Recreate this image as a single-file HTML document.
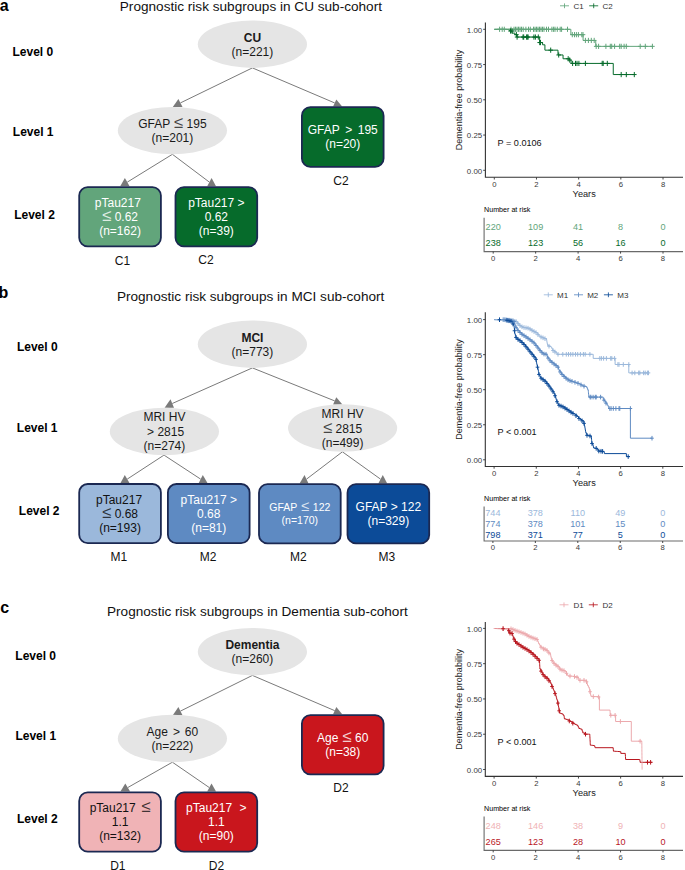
<!DOCTYPE html>
<html><head><meta charset="utf-8"><style>
html,body{margin:0;padding:0;background:#fff;}
svg{display:block;font-family:"Liberation Sans", sans-serif;}
</style></head><body>
<svg width="685" height="870" viewBox="0 0 685 870">
<rect width="685" height="870" fill="#fff"/>
<text x="-0.30" y="10.50" font-size="16" text-anchor="start" font-weight="bold" fill="#000" >a</text>
<text x="119.80" y="10.90" font-size="13.6" text-anchor="start" font-weight="normal" fill="#111" >Prognostic risk subgroups in CU sub-cohort</text>
<text x="12.50" y="55.60" font-size="12" text-anchor="start" font-weight="bold" fill="#000" >Level 0</text>
<text x="12.80" y="136.00" font-size="12" text-anchor="start" font-weight="bold" fill="#000" >Level 1</text>
<text x="14.20" y="219.00" font-size="12" text-anchor="start" font-weight="bold" fill="#000" >Level 2</text>
<line x1="252.4" y1="67.9" x2="180.45" y2="102.90" stroke="#7a7a7a" stroke-width="1"/>
<polygon points="178.4,98.9 172.8,106.9 182.5,106.9" fill="#7a7a7a"/>
<line x1="252.4" y1="67.9" x2="334.70" y2="102.95" stroke="#7a7a7a" stroke-width="1"/>
<polygon points="336.3,99.4 333.1,106.5 342.2,106.5" fill="#7a7a7a"/>
<line x1="172.4" y1="154.3" x2="127.25" y2="182.15" stroke="#7a7a7a" stroke-width="1"/>
<polygon points="124.9,178.0 120.2,186.3 129.6,186.3" fill="#7a7a7a"/>
<line x1="172.4" y1="154.3" x2="209.40" y2="182.15" stroke="#7a7a7a" stroke-width="1"/>
<polygon points="211.6,178.0 207.2,186.3 216.0,186.3" fill="#7a7a7a"/>
<ellipse cx="252.4" cy="44.2" rx="54.6" ry="23.7" fill="#e5e5e5"/>
<text x="252.40" y="41.70" font-size="12" text-anchor="middle" font-weight="bold" fill="#1a1a1a" >CU</text>
<text x="252.40" y="55.70" font-size="12" text-anchor="middle" font-weight="normal" fill="#1a1a1a" >(n=221)</text>
<ellipse cx="172.4" cy="130.6" rx="54.6" ry="23.7" fill="#e5e5e5"/>
<text x="172.40" y="128.10" font-size="12" text-anchor="middle" font-weight="normal" fill="#1a1a1a"  word-spacing="0.4">GFAP <tspan font-size="16.80" fill-opacity="0.8">≤</tspan> 195</text>
<text x="172.40" y="142.10" font-size="12" text-anchor="middle" font-weight="normal" fill="#1a1a1a" >(n=201)</text>
<rect x="301.90" y="107.20" width="81.70" height="59.70" rx="8.5" fill="#066b2b" stroke="#1b2852" stroke-width="1.8"/>
<text x="342.75" y="133.95" font-size="12" text-anchor="middle" font-weight="normal" fill="#fff"  word-spacing="2.3">GFAP &gt; 195</text>
<text x="342.75" y="147.95" font-size="12" text-anchor="middle" font-weight="normal" fill="#fff" >(n=20)</text>
<rect x="79.20" y="187.10" width="81.70" height="59.20" rx="8.5" fill="#62a57b" stroke="#1b2852" stroke-width="1.8"/>
<text x="117.85" y="206.90" font-size="12" text-anchor="middle" font-weight="normal" fill="#fff" >pTau217</text>
<text x="120.05" y="221.00" font-size="12" text-anchor="middle" font-weight="normal" fill="#fff" ><tspan font-size="16.80" fill-opacity="0.8">≤</tspan> 0.62</text>
<text x="120.05" y="235.10" font-size="12" text-anchor="middle" font-weight="normal" fill="#fff" >(n=162)</text>
<rect x="175.50" y="187.10" width="81.70" height="59.20" rx="8.5" fill="#066b2b" stroke="#1b2852" stroke-width="1.8"/>
<text x="216.35" y="206.90" font-size="12" text-anchor="middle" font-weight="normal" fill="#fff" >pTau217 &gt;</text>
<text x="216.35" y="221.00" font-size="12" text-anchor="middle" font-weight="normal" fill="#fff" >0.62</text>
<text x="216.35" y="235.10" font-size="12" text-anchor="middle" font-weight="normal" fill="#fff" >(n=39)</text>
<text x="340.90" y="184.60" font-size="12" text-anchor="middle" font-weight="normal" fill="#111" >C2</text>
<text x="122.50" y="264.50" font-size="12" text-anchor="middle" font-weight="normal" fill="#111" >C1</text>
<text x="206.00" y="264.00" font-size="12" text-anchor="middle" font-weight="normal" fill="#111" >C2</text>
<text x="-1.50" y="297.80" font-size="16" text-anchor="start" font-weight="bold" fill="#000" >b</text>
<text x="116.90" y="300.90" font-size="13.6" text-anchor="start" font-weight="normal" fill="#111" >Prognostic risk subgroups in MCI sub-cohort</text>
<text x="16.90" y="351.00" font-size="12" text-anchor="start" font-weight="bold" fill="#000" >Level 0</text>
<text x="16.80" y="431.50" font-size="12" text-anchor="start" font-weight="bold" fill="#000" >Level 1</text>
<text x="18.80" y="514.50" font-size="12" text-anchor="start" font-weight="bold" fill="#000" >Level 2</text>
<line x1="252.4" y1="367.9" x2="172.25" y2="403.50" stroke="#7a7a7a" stroke-width="1"/>
<polygon points="170.5,399.3 164.6,407.7 174.0,407.7" fill="#7a7a7a"/>
<line x1="252.4" y1="367.9" x2="334.70" y2="400.90" stroke="#7a7a7a" stroke-width="1"/>
<polygon points="336.3,397.3 333.1,404.5 342.4,404.5" fill="#7a7a7a"/>
<line x1="164.0" y1="455.1" x2="127.20" y2="479.15" stroke="#7a7a7a" stroke-width="1"/>
<polygon points="124.8,475.1 120.4,483.2 129.6,483.2" fill="#7a7a7a"/>
<line x1="164.0" y1="455.1" x2="200.70" y2="479.15" stroke="#7a7a7a" stroke-width="1"/>
<polygon points="202.8,475.1 198.6,483.2 207.6,483.2" fill="#7a7a7a"/>
<line x1="342.4" y1="451.8" x2="306.50" y2="479.15" stroke="#7a7a7a" stroke-width="1"/>
<polygon points="304.5,474.9 299.6,483.4 308.5,483.4" fill="#7a7a7a"/>
<line x1="342.4" y1="451.8" x2="380.55" y2="479.15" stroke="#7a7a7a" stroke-width="1"/>
<polygon points="382.8,474.9 378.3,483.4 387.2,483.4" fill="#7a7a7a"/>
<ellipse cx="252.4" cy="344.2" rx="54.6" ry="23.7" fill="#e5e5e5"/>
<text x="252.40" y="341.70" font-size="12" text-anchor="middle" font-weight="bold" fill="#1a1a1a" >MCI</text>
<text x="252.40" y="355.70" font-size="12" text-anchor="middle" font-weight="normal" fill="#1a1a1a" >(n=773)</text>
<ellipse cx="164.4" cy="431.5" rx="54.6" ry="23.7" fill="#e5e5e5"/>
<text x="164.40" y="421.30" font-size="12" text-anchor="middle" font-weight="normal" fill="#1a1a1a" >MRI HV</text>
<text x="165.60" y="436.00" font-size="12" text-anchor="middle" font-weight="normal" fill="#1a1a1a" >&gt; 2815</text>
<text x="164.40" y="450.10" font-size="12" text-anchor="middle" font-weight="normal" fill="#1a1a1a" >(n=274)</text>
<ellipse cx="342.6" cy="428.0" rx="54.6" ry="23.7" fill="#e5e5e5"/>
<text x="342.60" y="417.80" font-size="12" text-anchor="middle" font-weight="normal" fill="#1a1a1a" >MRI HV</text>
<text x="342.60" y="432.50" font-size="12" text-anchor="middle" font-weight="normal" fill="#1a1a1a" ><tspan font-size="16.80" fill-opacity="0.8">≤</tspan> 2815</text>
<text x="342.60" y="446.60" font-size="12" text-anchor="middle" font-weight="normal" fill="#1a1a1a" >(n=499)</text>
<rect x="79.20" y="484.00" width="81.70" height="59.20" rx="8.5" fill="#9bb8db" stroke="#1b2852" stroke-width="1.8"/>
<text x="119.05" y="503.80" font-size="12" text-anchor="middle" font-weight="normal" fill="#111" >pTau217</text>
<text x="120.05" y="517.90" font-size="12" text-anchor="middle" font-weight="normal" fill="#111" ><tspan font-size="16.80" fill-opacity="0.8">≤</tspan> 0.68</text>
<text x="120.05" y="532.00" font-size="12" text-anchor="middle" font-weight="normal" fill="#111" >(n=193)</text>
<rect x="167.90" y="484.00" width="81.70" height="59.20" rx="8.5" fill="#5e8ac2" stroke="#1b2852" stroke-width="1.8"/>
<text x="208.75" y="503.80" font-size="12" text-anchor="middle" font-weight="normal" fill="#fff" >pTau217 &gt;</text>
<text x="208.75" y="517.90" font-size="12" text-anchor="middle" font-weight="normal" fill="#fff" >0.68</text>
<text x="208.75" y="532.00" font-size="12" text-anchor="middle" font-weight="normal" fill="#fff" >(n=81)</text>
<rect x="259.00" y="484.20" width="81.70" height="59.20" rx="8.5" fill="#5e8ac2" stroke="#1b2852" stroke-width="1.8"/>
<text x="299.85" y="510.80" font-size="10.5" text-anchor="middle" font-weight="normal" fill="#fff"  word-spacing="0.9">GFAP <tspan font-size="14.70" fill-opacity="0.8">≤</tspan> 122</text>
<text x="299.85" y="523.90" font-size="10.5" text-anchor="middle" font-weight="normal" fill="#fff" >(n=170)</text>
<rect x="347.50" y="484.20" width="81.70" height="59.20" rx="8.5" fill="#0c4b98" stroke="#1b2852" stroke-width="1.8"/>
<text x="388.35" y="510.70" font-size="12" text-anchor="middle" font-weight="normal" fill="#fff" >GFAP &gt; 122</text>
<text x="388.35" y="524.70" font-size="12" text-anchor="middle" font-weight="normal" fill="#fff" >(n=329)</text>
<text x="118.80" y="561.00" font-size="12" text-anchor="middle" font-weight="normal" fill="#111" >M1</text>
<text x="208.00" y="561.00" font-size="12" text-anchor="middle" font-weight="normal" fill="#111" >M2</text>
<text x="298.40" y="561.00" font-size="12" text-anchor="middle" font-weight="normal" fill="#111" >M2</text>
<text x="386.90" y="561.00" font-size="12" text-anchor="middle" font-weight="normal" fill="#111" >M3</text>
<text x="0.20" y="612.80" font-size="16" text-anchor="start" font-weight="bold" fill="#000" >c</text>
<text x="107.00" y="616.00" font-size="13.6" text-anchor="start" font-weight="normal" fill="#111" >Prognostic risk subgroups in Dementia sub-cohort</text>
<text x="15.30" y="660.30" font-size="12" text-anchor="start" font-weight="bold" fill="#000" >Level 0</text>
<text x="15.40" y="740.40" font-size="12" text-anchor="start" font-weight="bold" fill="#000" >Level 1</text>
<text x="17.00" y="823.10" font-size="12" text-anchor="start" font-weight="bold" fill="#000" >Level 2</text>
<line x1="252.4" y1="675.4" x2="180.45" y2="711.10" stroke="#7a7a7a" stroke-width="1"/>
<polygon points="178.4,707.0 172.8,715.2 182.5,715.2" fill="#7a7a7a"/>
<line x1="252.4" y1="675.4" x2="334.70" y2="710.65" stroke="#7a7a7a" stroke-width="1"/>
<polygon points="336.3,707.0 333.1,714.3 342.2,714.3" fill="#7a7a7a"/>
<line x1="172.4" y1="762.2" x2="127.70" y2="787.60" stroke="#7a7a7a" stroke-width="1"/>
<polygon points="125.3,783.6 120.4,791.6 130.1,791.6" fill="#7a7a7a"/>
<line x1="172.4" y1="762.2" x2="209.35" y2="787.60" stroke="#7a7a7a" stroke-width="1"/>
<polygon points="211.5,783.6 207.2,791.6 216.0,791.6" fill="#7a7a7a"/>
<ellipse cx="252.4" cy="651.7" rx="54.6" ry="23.7" fill="#e5e5e5"/>
<text x="252.40" y="649.20" font-size="12" text-anchor="middle" font-weight="bold" fill="#1a1a1a" >Dementia</text>
<text x="252.40" y="663.20" font-size="12" text-anchor="middle" font-weight="normal" fill="#1a1a1a" >(n=260)</text>
<ellipse cx="172.4" cy="738.5" rx="54.6" ry="23.7" fill="#e5e5e5"/>
<text x="172.40" y="736.00" font-size="12" text-anchor="middle" font-weight="normal" fill="#1a1a1a"  word-spacing="1.6">Age &gt; 60</text>
<text x="172.40" y="750.00" font-size="12" text-anchor="middle" font-weight="normal" fill="#1a1a1a" >(n=222)</text>
<rect x="301.90" y="715.10" width="81.70" height="59.20" rx="8.5" fill="#c9161d" stroke="#1b2852" stroke-width="1.8"/>
<text x="342.75" y="741.60" font-size="12" text-anchor="middle" font-weight="normal" fill="#fff"  word-spacing="0.4">Age <tspan font-size="16.80" fill-opacity="0.8">≤</tspan> 60</text>
<text x="342.75" y="755.60" font-size="12" text-anchor="middle" font-weight="normal" fill="#fff" >(n=38)</text>
<rect x="79.20" y="792.40" width="81.70" height="59.20" rx="8.5" fill="#f0b3b6" stroke="#1b2852" stroke-width="1.8"/>
<text x="120.05" y="812.20" font-size="12" text-anchor="middle" font-weight="normal" fill="#111"  word-spacing="2.2">pTau217 <tspan font-size="16.80" fill-opacity="0.8">≤</tspan></text>
<text x="120.05" y="826.30" font-size="12" text-anchor="middle" font-weight="normal" fill="#111" >1.1</text>
<text x="120.05" y="840.40" font-size="12" text-anchor="middle" font-weight="normal" fill="#111" >(n=132)</text>
<rect x="175.50" y="792.40" width="81.70" height="59.20" rx="8.5" fill="#c9161d" stroke="#1b2852" stroke-width="1.8"/>
<text x="216.35" y="812.20" font-size="12" text-anchor="middle" font-weight="normal" fill="#fff"  word-spacing="4.1">pTau217 &gt;</text>
<text x="216.35" y="826.30" font-size="12" text-anchor="middle" font-weight="normal" fill="#fff" >1.1</text>
<text x="216.35" y="840.40" font-size="12" text-anchor="middle" font-weight="normal" fill="#fff" >(n=90)</text>
<text x="341.00" y="791.80" font-size="12" text-anchor="middle" font-weight="normal" fill="#111" >D2</text>
<text x="117.80" y="869.50" font-size="12" text-anchor="middle" font-weight="normal" fill="#111" >D1</text>
<text x="216.40" y="869.50" font-size="12" text-anchor="middle" font-weight="normal" fill="#111" >D2</text>
<path d="M485.4,22.6 V177.3 H683" fill="none" stroke="#333333" stroke-width="1.1"/>
<line x1="483.2" y1="29.30" x2="485.4" y2="29.30" stroke="#333333" stroke-width="0.9"/>
<text x="482.20" y="32.50" font-size="7.9" text-anchor="end" font-weight="normal" fill="#3a3a3a" >1.00</text>
<line x1="483.2" y1="64.55" x2="485.4" y2="64.55" stroke="#333333" stroke-width="0.9"/>
<text x="482.20" y="67.75" font-size="7.9" text-anchor="end" font-weight="normal" fill="#3a3a3a" >0.75</text>
<line x1="483.2" y1="99.80" x2="485.4" y2="99.80" stroke="#333333" stroke-width="0.9"/>
<text x="482.20" y="103.00" font-size="7.9" text-anchor="end" font-weight="normal" fill="#3a3a3a" >0.50</text>
<line x1="483.2" y1="135.05" x2="485.4" y2="135.05" stroke="#333333" stroke-width="0.9"/>
<text x="482.20" y="138.25" font-size="7.9" text-anchor="end" font-weight="normal" fill="#3a3a3a" >0.25</text>
<line x1="483.2" y1="170.30" x2="485.4" y2="170.30" stroke="#333333" stroke-width="0.9"/>
<text x="482.20" y="173.50" font-size="7.9" text-anchor="end" font-weight="normal" fill="#3a3a3a" >0.00</text>
<line x1="494.30" y1="177.3" x2="494.30" y2="179.5" stroke="#333333" stroke-width="0.9"/>
<text x="494.30" y="186.90" font-size="7.7" text-anchor="middle" font-weight="normal" fill="#3a3a3a" >0</text>
<line x1="536.48" y1="177.3" x2="536.48" y2="179.5" stroke="#333333" stroke-width="0.9"/>
<text x="536.48" y="186.90" font-size="7.7" text-anchor="middle" font-weight="normal" fill="#3a3a3a" >2</text>
<line x1="578.66" y1="177.3" x2="578.66" y2="179.5" stroke="#333333" stroke-width="0.9"/>
<text x="578.66" y="186.90" font-size="7.7" text-anchor="middle" font-weight="normal" fill="#3a3a3a" >4</text>
<line x1="620.84" y1="177.3" x2="620.84" y2="179.5" stroke="#333333" stroke-width="0.9"/>
<text x="620.84" y="186.90" font-size="7.7" text-anchor="middle" font-weight="normal" fill="#3a3a3a" >6</text>
<line x1="663.02" y1="177.3" x2="663.02" y2="179.5" stroke="#333333" stroke-width="0.9"/>
<text x="663.02" y="186.90" font-size="7.7" text-anchor="middle" font-weight="normal" fill="#3a3a3a" >8</text>
<text x="584.20" y="197.20" font-size="9.2" text-anchor="middle" font-weight="normal" fill="#1a1a1a" >Years</text>
<text x="0" y="0" font-size="9.0" text-anchor="middle" fill="#1a1a1a" transform="translate(461.9,100.10) rotate(-90)">Dementia-free probability</text>
<text x="497.60" y="146.00" font-size="9.1" text-anchor="start" font-weight="normal" fill="#111" >P = 0.0106</text>
<path d="M560.0,5.8 H569.0 M564.5,3.4 V8.2" stroke="#62a57b" stroke-width="0.85" fill="none"/>
<text x="573.50" y="8.70" font-size="8" text-anchor="start" font-weight="normal" fill="#333" >C1</text>
<path d="M589.2,5.8 H598.2 M593.7,3.4 V8.2" stroke="#066b2b" stroke-width="0.85" fill="none"/>
<text x="602.60" y="8.70" font-size="8" text-anchor="start" font-weight="normal" fill="#333" >C2</text>
<path d="M494.30,29.30 H509.70 V30.99 H512.02 V33.11 H514.97 V34.66 H517.08 V37.06 H539.64 V42.55 H542.60 V44.81 H544.92 V50.17 H557.99 V54.96 H563.05 V58.77 H569.59 V60.04 H571.07 V63.42 H613.25 V74.56 H635.00" fill="none" stroke="#066b2b" stroke-width="1.0"/>
<path d="M494.30,29.30 H570.86 V34.66 H583.09 V40.44 H595.74 V46.36 H652.60" fill="none" stroke="#62a57b" stroke-width="1.0"/>
<path d="M497.30,29.30 H501.90 M499.60,26.70 V31.90 M499.90,29.30 H504.50 M502.20,26.70 V31.90 M502.00,29.30 H506.60 M504.30,26.70 V31.90 M508.70,29.30 H513.30 M511.00,26.70 V31.90 M511.70,29.30 H516.30 M514.00,26.70 V31.90 M513.20,29.30 H517.80 M515.50,26.70 V31.90 M514.70,29.30 H519.30 M517.00,26.70 V31.90 M516.20,29.30 H520.80 M518.50,26.70 V31.90 M517.70,29.30 H522.30 M520.00,26.70 V31.90 M519.20,29.30 H523.80 M521.50,26.70 V31.90 M520.90,29.30 H525.50 M523.20,26.70 V31.90 M523.60,29.30 H528.20 M525.90,26.70 V31.90 M526.20,29.30 H530.80 M528.50,26.70 V31.90 M528.00,29.30 H532.60 M530.30,26.70 V31.90 M531.20,29.30 H535.80 M533.50,26.70 V31.90 M532.70,29.30 H537.30 M535.00,26.70 V31.90 M534.20,29.30 H538.80 M536.50,26.70 V31.90 M535.70,29.30 H540.30 M538.00,26.70 V31.90 M537.20,29.30 H541.80 M539.50,26.70 V31.90 M538.70,29.30 H543.30 M541.00,26.70 V31.90 M540.20,29.30 H544.80 M542.50,26.70 V31.90 M541.70,29.30 H546.30 M544.00,26.70 V31.90 M544.20,29.30 H548.80 M546.50,26.70 V31.90 M546.20,29.30 H550.80 M548.50,26.70 V31.90 M549.60,29.30 H554.20 M551.90,26.70 V31.90 M551.30,29.30 H555.90 M553.60,26.70 V31.90 M552.70,29.30 H557.30 M555.00,26.70 V31.90 M555.00,29.30 H559.60 M557.30,26.70 V31.90 M557.90,29.30 H562.50 M560.20,26.70 V31.90 M559.30,29.30 H563.90 M561.60,26.70 V31.90 M565.20,29.30 H569.80 M567.50,26.70 V31.90 M570.00,34.66 H574.60 M572.30,32.06 V37.26 M572.20,34.66 H576.80 M574.50,32.06 V37.26 M574.10,34.66 H578.70 M576.40,32.06 V37.26 M576.10,34.66 H580.70 M578.40,32.06 V37.26 M579.50,34.66 H584.10 M581.80,32.06 V37.26 M580.70,34.66 H585.30 M583.00,32.06 V37.26 M583.10,40.44 H587.70 M585.40,37.84 V43.04 M586.10,40.44 H590.70 M588.40,37.84 V43.04 M589.00,40.44 H593.60 M591.30,37.84 V43.04 M591.90,40.44 H596.50 M594.20,37.84 V43.04 M593.90,46.36 H598.50 M596.20,43.76 V48.96 M596.30,46.36 H600.90 M598.60,43.76 V48.96 M603.60,46.36 H608.20 M605.90,43.76 V48.96 M608.00,46.36 H612.60 M610.30,43.76 V48.96 M609.40,46.36 H614.00 M611.70,43.76 V48.96 M612.30,46.36 H616.90 M614.60,43.76 V48.96 M617.40,46.36 H622.00 M619.70,43.76 V48.96 M618.90,46.36 H623.50 M621.20,43.76 V48.96 M621.80,46.36 H626.40 M624.10,43.76 V48.96 M624.00,46.36 H628.60 M626.30,43.76 V48.96 M637.90,46.36 H642.50 M640.20,43.76 V48.96 M643.00,46.36 H647.60 M645.30,43.76 V48.96 M650.10,46.36 H654.70 M652.40,43.76 V48.96" fill="none" stroke="#62a57b" stroke-width="1.0"/>
<path d="M508.20,30.99 H512.80 M510.50,28.39 V33.59 M509.70,30.99 H514.30 M512.00,28.39 V33.59 M514.10,34.66 H518.70 M516.40,32.06 V37.26 M514.80,37.06 H519.40 M517.10,34.46 V39.66 M520.70,37.06 H525.30 M523.00,34.46 V39.66 M521.40,37.06 H526.00 M523.70,34.46 V39.66 M524.30,37.06 H528.90 M526.60,34.46 V39.66 M525.00,37.06 H529.60 M527.30,34.46 V39.66 M525.80,37.06 H530.40 M528.10,34.46 V39.66 M531.60,37.06 H536.20 M533.90,34.46 V39.66 M533.10,37.06 H537.70 M535.40,34.46 V39.66 M536.00,37.06 H540.60 M538.30,34.46 V39.66 M537.40,42.55 H542.00 M539.70,39.95 V45.15 M538.20,42.55 H542.80 M540.50,39.95 V45.15 M548.40,50.17 H553.00 M550.70,47.57 V52.77 M556.40,54.96 H561.00 M558.70,52.36 V57.56 M565.90,58.77 H570.50 M568.20,56.17 V61.37 M567.40,60.04 H572.00 M569.70,57.44 V62.64 M570.30,63.42 H574.90 M572.60,60.82 V66.02 M573.20,63.42 H577.80 M575.50,60.82 V66.02 M574.70,63.42 H579.30 M577.00,60.82 V66.02 M576.60,63.42 H581.20 M578.90,60.82 V66.02 M583.10,63.42 H587.70 M585.40,60.82 V66.02 M599.90,63.42 H604.50 M602.20,60.82 V66.02 M600.90,63.42 H605.50 M603.20,60.82 V66.02 M605.00,63.42 H609.60 M607.30,60.82 V66.02 M618.90,74.56 H623.50 M621.20,71.96 V77.16 M624.00,74.56 H628.60 M626.30,71.96 V77.16 M632.00,74.56 H636.60 M634.30,71.96 V77.16" fill="none" stroke="#066b2b" stroke-width="1.0"/>
<text x="484.00" y="212.40" font-size="7.15" text-anchor="start" font-weight="normal" fill="#000" >Number at risk</text>
<path d="M484.1,217.7 V251.6 H683" fill="none" stroke="#6a6a6a" stroke-width="1.1"/>
<line x1="493.20" y1="251.6" x2="493.20" y2="253.6" stroke="#333333" stroke-width="0.9"/>
<text x="493.20" y="260.90" font-size="7.7" text-anchor="middle" font-weight="normal" fill="#3a3a3a" >0</text>
<line x1="535.65" y1="251.6" x2="535.65" y2="253.6" stroke="#333333" stroke-width="0.9"/>
<text x="535.65" y="260.90" font-size="7.7" text-anchor="middle" font-weight="normal" fill="#3a3a3a" >2</text>
<line x1="578.10" y1="251.6" x2="578.10" y2="253.6" stroke="#333333" stroke-width="0.9"/>
<text x="578.10" y="260.90" font-size="7.7" text-anchor="middle" font-weight="normal" fill="#3a3a3a" >4</text>
<line x1="620.55" y1="251.6" x2="620.55" y2="253.6" stroke="#333333" stroke-width="0.9"/>
<text x="620.55" y="260.90" font-size="7.7" text-anchor="middle" font-weight="normal" fill="#3a3a3a" >6</text>
<line x1="663.00" y1="251.6" x2="663.00" y2="253.6" stroke="#333333" stroke-width="0.9"/>
<text x="663.00" y="260.90" font-size="7.7" text-anchor="middle" font-weight="normal" fill="#3a3a3a" >8</text>
<text x="493.20" y="230.20" font-size="9.1" text-anchor="middle" font-weight="normal" fill="#62a57b" >220</text>
<text x="535.65" y="230.20" font-size="9.1" text-anchor="middle" font-weight="normal" fill="#62a57b" >109</text>
<text x="578.10" y="230.20" font-size="9.1" text-anchor="middle" font-weight="normal" fill="#62a57b" >41</text>
<text x="620.55" y="230.20" font-size="9.1" text-anchor="middle" font-weight="normal" fill="#62a57b" >8</text>
<text x="663.00" y="230.20" font-size="9.1" text-anchor="middle" font-weight="normal" fill="#62a57b" >0</text>
<text x="493.20" y="245.80" font-size="9.1" text-anchor="middle" font-weight="normal" fill="#066b2b" >238</text>
<text x="535.65" y="245.80" font-size="9.1" text-anchor="middle" font-weight="normal" fill="#066b2b" >123</text>
<text x="578.10" y="245.80" font-size="9.1" text-anchor="middle" font-weight="normal" fill="#066b2b" >56</text>
<text x="620.55" y="245.80" font-size="9.1" text-anchor="middle" font-weight="normal" fill="#066b2b" >16</text>
<text x="663.00" y="245.80" font-size="9.1" text-anchor="middle" font-weight="normal" fill="#066b2b" >0</text>
<path d="M485.3,312.3 V466.5 H683" fill="none" stroke="#333333" stroke-width="1.1"/>
<line x1="483.1" y1="319.60" x2="485.3" y2="319.60" stroke="#333333" stroke-width="0.9"/>
<text x="482.20" y="322.80" font-size="7.9" text-anchor="end" font-weight="normal" fill="#3a3a3a" >1.00</text>
<line x1="483.1" y1="354.65" x2="485.3" y2="354.65" stroke="#333333" stroke-width="0.9"/>
<text x="482.20" y="357.85" font-size="7.9" text-anchor="end" font-weight="normal" fill="#3a3a3a" >0.75</text>
<line x1="483.1" y1="389.70" x2="485.3" y2="389.70" stroke="#333333" stroke-width="0.9"/>
<text x="482.20" y="392.90" font-size="7.9" text-anchor="end" font-weight="normal" fill="#3a3a3a" >0.50</text>
<line x1="483.1" y1="424.75" x2="485.3" y2="424.75" stroke="#333333" stroke-width="0.9"/>
<text x="482.20" y="427.95" font-size="7.9" text-anchor="end" font-weight="normal" fill="#3a3a3a" >0.25</text>
<line x1="483.1" y1="459.80" x2="485.3" y2="459.80" stroke="#333333" stroke-width="0.9"/>
<text x="482.20" y="463.00" font-size="7.9" text-anchor="end" font-weight="normal" fill="#3a3a3a" >0.00</text>
<line x1="494.10" y1="466.5" x2="494.10" y2="468.7" stroke="#333333" stroke-width="0.9"/>
<text x="494.10" y="476.10" font-size="7.7" text-anchor="middle" font-weight="normal" fill="#3a3a3a" >0</text>
<line x1="536.28" y1="466.5" x2="536.28" y2="468.7" stroke="#333333" stroke-width="0.9"/>
<text x="536.28" y="476.10" font-size="7.7" text-anchor="middle" font-weight="normal" fill="#3a3a3a" >2</text>
<line x1="578.46" y1="466.5" x2="578.46" y2="468.7" stroke="#333333" stroke-width="0.9"/>
<text x="578.46" y="476.10" font-size="7.7" text-anchor="middle" font-weight="normal" fill="#3a3a3a" >4</text>
<line x1="620.64" y1="466.5" x2="620.64" y2="468.7" stroke="#333333" stroke-width="0.9"/>
<text x="620.64" y="476.10" font-size="7.7" text-anchor="middle" font-weight="normal" fill="#3a3a3a" >6</text>
<line x1="662.82" y1="466.5" x2="662.82" y2="468.7" stroke="#333333" stroke-width="0.9"/>
<text x="662.82" y="476.10" font-size="7.7" text-anchor="middle" font-weight="normal" fill="#3a3a3a" >8</text>
<text x="584.20" y="486.40" font-size="9.2" text-anchor="middle" font-weight="normal" fill="#1a1a1a" >Years</text>
<text x="0" y="0" font-size="9.0" text-anchor="middle" fill="#1a1a1a" transform="translate(461.9,389.55) rotate(-90)">Dementia-free probability</text>
<text x="497.60" y="435.40" font-size="9.1" text-anchor="start" font-weight="normal" fill="#111" >P &lt; 0.001</text>
<path d="M543.8,294.8 H552.8 M548.3,292.40000000000003 V297.2" stroke="#9bb8db" stroke-width="0.85" fill="none"/>
<text x="557.00" y="297.70" font-size="8" text-anchor="start" font-weight="normal" fill="#333" >M1</text>
<path d="M574.0,294.8 H583.0 M578.5,292.40000000000003 V297.2" stroke="#5e8ac2" stroke-width="0.85" fill="none"/>
<text x="587.20" y="297.70" font-size="8" text-anchor="start" font-weight="normal" fill="#333" >M2</text>
<path d="M603.9,294.8 H612.9 M608.4,292.40000000000003 V297.2" stroke="#0c4b98" stroke-width="0.85" fill="none"/>
<text x="617.30" y="297.70" font-size="8" text-anchor="start" font-weight="normal" fill="#333" >M3</text>
<path d="M494.40,319.60 H495.72 V319.62 H497.05 V319.65 H498.38 V319.68 H499.70 V319.70 H501.02 V319.73 H502.35 V319.75 H503.68 V319.78 H505.00 V319.80 H506.38 V320.14 H507.76 V320.48 H509.14 V320.82 H510.52 V321.16 H511.90 V321.50 H512.45 V322.77 H513.00 V324.05 H513.55 V325.33 H514.10 V326.60 H514.24 V328.06 H514.38 V329.52 H514.52 V330.98 H514.66 V332.44 H514.80 V333.90 H515.30 V335.37 H515.80 V336.83 H516.30 V338.30 H517.77 V339.27 H519.23 V340.23 H520.70 V341.20 H521.90 V342.40 H523.10 V343.60 H524.30 V344.80 H525.53 V346.27 H526.77 V347.73 H528.00 V349.20 H528.97 V350.43 H529.93 V351.67 H530.90 V352.90 H532.20 V354.45 H533.50 V356.00 H534.75 V357.70 H536.00 V359.40 H536.20 V360.77 H536.40 V362.13 H536.60 V363.50 H536.92 V364.82 H537.25 V366.15 H537.58 V367.48 H537.90 V368.80 H538.12 V370.10 H538.35 V371.40 H538.57 V372.70 H538.80 V374.00 H539.37 V375.27 H539.93 V376.53 H540.50 V377.80 H541.80 V378.80 H543.55 V380.10 H545.30 V381.40 H546.47 V382.87 H547.63 V384.33 H548.80 V385.80 H549.88 V387.32 H550.95 V388.85 H552.02 V390.38 H553.10 V391.90 H554.00 V393.65 H554.90 V395.40 H555.33 V396.87 H555.77 V398.33 H556.20 V399.80 H556.75 V401.10 H557.30 V402.40 H557.85 V403.70 H558.40 V405.00 H559.87 V405.60 H561.33 V406.20 H562.80 V406.80 H564.55 V407.90 H566.30 V409.00 H567.73 V410.00 H569.17 V411.00 H570.60 V412.00 H572.07 V412.90 H573.53 V413.80 H575.00 V414.70 H576.75 V416.45 H578.50 V418.20 H580.25 V419.50 H582.00 V420.80 H583.90 V422.90 H584.20 V424.37 H584.50 V425.83 H584.80 V427.30 H585.02 V428.62 H585.25 V429.95 H585.48 V431.28 H585.70 V432.60 H586.35 V433.95 H587.00 V435.30 H588.75 V435.70 H590.50 V436.10 H591.40 V437.90 H591.50 V439.20 H591.60 V440.50 H591.70 V441.80 H591.80 V443.10 H592.45 V444.45 H593.10 V445.80 H593.35 V446.90 H593.60 V448.00 H595.10 V448.20 H596.60 V448.40 H597.50 V449.70 H598.40 V451.00 H599.70 V451.12 H601.00 V451.25 H602.30 V451.38 H603.60 V451.50 H604.05 V452.55 H604.50 V453.60 L626.40,453.60 L626.40,456.60 L629.90,456.60" fill="none" stroke="#0c4b98" stroke-width="1.0"/>
<path d="M494.40,319.60 H495.72 V319.61 H497.05 V319.62 H498.38 V319.64 H499.70 V319.65 H501.02 V319.66 H502.35 V319.68 H503.68 V319.69 H505.00 V319.70 H506.30 V319.96 H507.60 V320.21 H508.90 V320.47 H510.20 V320.73 H511.50 V320.99 H512.80 V321.24 H514.10 V321.50 H514.45 V322.77 H514.80 V324.05 H515.15 V325.33 H515.50 V326.60 H516.23 V327.80 H516.97 V329.00 H517.70 V330.20 H518.93 V331.43 H520.17 V332.67 H521.40 V333.90 H522.87 V334.87 H524.33 V335.83 H525.80 V336.80 H527.23 V337.83 H528.67 V338.87 H530.10 V339.90 H531.33 V340.83 H532.57 V341.77 H533.80 V342.70 H534.83 V344.00 H535.87 V345.30 H536.90 V346.60 H538.03 V348.07 H539.17 V349.53 H540.30 V351.00 H541.70 V352.45 H543.10 V353.90 H544.85 V354.10 H546.60 V354.30 H547.05 V355.85 H547.50 V357.40 H548.80 V359.15 H550.10 V360.90 H551.57 V362.07 H553.03 V363.23 H554.50 V364.40 H556.25 V365.80 H558.00 V367.20 H558.50 V368.85 H559.00 V370.50 H560.25 V372.25 H561.50 V374.00 H563.25 V375.75 H565.00 V377.50 H566.75 V378.85 H568.50 V380.20 H569.83 V380.62 H571.15 V381.05 H572.47 V381.47 H573.80 V381.90 H575.10 V382.35 H576.40 V382.80 H577.70 V383.25 H579.00 V383.70 H580.30 V384.47 H581.60 V385.23 H582.90 V386.00 H584.50 V386.30 H586.10 V386.60 H586.75 V387.70 H587.40 V388.80 H587.85 V390.10 H588.30 V391.40 H588.42 V392.82 H588.55 V394.25 H588.67 V395.68 H588.80 V397.10 L602.30,397.10 H603.20 V398.80 H603.85 V399.90 H604.50 V401.00 H605.40 V402.30 H606.30 V403.60 H607.15 V404.95 H608.00 V406.30 H608.45 V407.40 H608.90 V408.50 L630.40,408.50 L630.40,438.20 L652.10,438.20" fill="none" stroke="#5e8ac2" stroke-width="1.0"/>
<path d="M494.40,319.60 H495.83 V319.62 H497.27 V319.63 H498.70 V319.65 H500.13 V319.67 H501.57 V319.68 H503.00 V319.70 H504.40 V319.78 H505.80 V319.86 H507.20 V319.94 H508.60 V320.02 H510.00 V320.10 H511.38 V320.30 H512.75 V320.50 H514.12 V320.70 H515.50 V320.90 H516.73 V322.30 H517.97 V323.70 H519.20 V325.10 H520.40 V325.83 H521.60 V326.57 H522.80 V327.30 H524.27 V327.55 H525.75 V327.80 H527.23 V328.05 H528.70 V328.30 H529.90 V329.07 H531.10 V329.83 H532.30 V330.60 H533.77 V331.40 H535.23 V332.20 H536.70 V333.00 H537.95 V334.65 H539.20 V336.30 H540.62 V336.88 H542.05 V337.45 H543.48 V338.03 H544.90 V338.60 H546.60 V340.30 H546.83 V341.57 H547.05 V342.85 H547.27 V344.12 H547.50 V345.40 H549.25 V346.35 H551.00 V347.30 H551.90 V348.85 H552.80 V350.40 H554.55 V351.70 H556.30 V353.00 H557.10 V354.30 L593.20,354.30 L593.20,358.40 L615.10,358.40 L615.10,364.50 L628.80,364.50 L628.80,372.90 L649.10,372.90" fill="none" stroke="#9bb8db" stroke-width="1.0"/>
<path d="M501.20,319.70 H504.80 M503.00,317.40 V322.00 M503.20,319.81 H506.80 M505.00,317.51 V322.11 M505.20,319.93 H508.80 M507.00,317.63 V322.23 M507.20,320.04 H510.80 M509.00,317.74 V322.34 M509.20,320.25 H512.80 M511.00,317.95 V322.55 M511.20,320.54 H514.80 M513.00,318.24 V322.84 M514.20,321.47 H517.80 M516.00,319.17 V323.77 M516.20,323.74 H519.80 M518.00,321.44 V326.04 M518.20,325.59 H521.80 M520.00,323.29 V327.89 M520.20,326.81 H523.80 M522.00,324.51 V329.11 M522.20,327.50 H525.80 M524.00,325.20 V329.80 M524.20,327.84 H527.80 M526.00,325.54 V330.14 M526.20,328.18 H529.80 M528.00,325.88 V330.48 M528.20,329.13 H531.80 M530.00,326.83 V331.43 M530.20,330.41 H533.80 M532.00,328.11 V332.71 M532.20,331.53 H535.80 M534.00,329.23 V333.83 M534.20,332.62 H537.80 M536.00,330.32 V334.92 M536.20,334.72 H539.80 M538.00,332.42 V337.02 M539.20,337.03 H542.80 M541.00,334.73 V339.33 M541.20,337.83 H544.80 M543.00,335.53 V340.13 M543.20,338.70 H546.80 M545.00,336.40 V341.00 M547.20,346.21 H550.80 M549.00,343.91 V348.51 M551.20,350.55 H554.80 M553.00,348.25 V352.85 M553.20,352.03 H556.80 M555.00,349.73 V354.33 M556.20,354.30 H559.80 M558.00,352.00 V356.60 M561.00,354.30 H564.60 M562.80,352.00 V356.60 M564.50,354.30 H568.10 M566.30,352.00 V356.60 M566.70,354.30 H570.30 M568.50,352.00 V356.60 M568.90,354.30 H572.50 M570.70,352.00 V356.60 M571.10,354.30 H574.70 M572.90,352.00 V356.60 M573.70,354.30 H577.30 M575.50,352.00 V356.60 M575.90,354.30 H579.50 M577.70,352.00 V356.60 M578.60,354.30 H582.20 M580.40,352.00 V356.60 M581.60,354.30 H585.20 M583.40,352.00 V356.60 M583.40,354.30 H587.00 M585.20,352.00 V356.60 M588.10,354.30 H591.70 M589.90,352.00 V356.60 M598.00,358.40 H601.60 M599.80,356.10 V360.70 M599.60,358.40 H603.20 M601.40,356.10 V360.70 M601.80,358.40 H605.40 M603.60,356.10 V360.70 M604.60,358.40 H608.20 M606.40,356.10 V360.70 M608.90,358.40 H612.50 M610.70,356.10 V360.70 M610.00,358.40 H613.60 M611.80,356.10 V360.70 M612.80,358.40 H616.40 M614.60,356.10 V360.70 M616.10,364.50 H619.70 M617.90,362.20 V366.80 M617.20,364.50 H620.80 M619.00,362.20 V366.80 M621.50,364.50 H625.10 M623.30,362.20 V366.80 M627.00,364.50 H630.60 M628.80,362.20 V366.80 M630.30,372.90 H633.90 M632.10,370.60 V375.20 M633.00,372.90 H636.60 M634.80,370.60 V375.20 M636.90,372.90 H640.50 M638.70,370.60 V375.20 M638.00,372.90 H641.60 M639.80,370.60 V375.20 M641.80,372.90 H645.40 M643.60,370.60 V375.20 M643.40,372.90 H647.00 M645.20,370.60 V375.20 M645.60,372.90 H649.20 M647.40,370.60 V375.20 M646.70,372.90 H650.30 M648.50,370.60 V375.20" fill="none" stroke="#9bb8db" stroke-width="1.0"/>
<path d="M502.20,319.69 H505.80 M504.00,317.39 V321.99 M504.20,319.90 H507.80 M506.00,317.60 V322.20 M506.20,320.29 H509.80 M508.00,317.99 V322.59 M508.20,320.69 H511.80 M510.00,318.39 V322.99 M510.20,321.08 H513.80 M512.00,318.78 V323.38 M512.20,321.48 H515.80 M514.00,319.18 V323.78 M514.20,327.42 H517.80 M516.00,325.12 V329.72 M516.20,330.50 H519.80 M518.00,328.20 V332.80 M518.20,332.50 H521.80 M520.00,330.20 V334.80 M520.20,334.30 H523.80 M522.00,332.00 V336.60 M522.20,335.61 H525.80 M524.00,333.31 V337.91 M524.20,336.94 H527.80 M526.00,334.64 V339.24 M526.20,338.39 H529.80 M528.00,336.09 V340.69 M528.20,339.83 H531.80 M530.00,337.53 V342.13 M530.20,341.34 H533.80 M532.00,339.04 V343.64 M532.20,342.95 H535.80 M534.00,340.65 V345.25 M534.20,345.47 H537.80 M536.00,343.17 V347.77 M536.20,348.02 H539.80 M538.00,345.72 V350.32 M538.20,350.61 H541.80 M540.00,348.31 V352.91 M540.20,352.76 H543.80 M542.00,350.46 V355.06 M542.20,354.00 H545.80 M544.00,351.70 V356.30 M544.20,354.23 H547.80 M546.00,351.93 V356.53 M546.20,358.07 H549.80 M548.00,355.77 V360.37 M548.20,360.77 H551.80 M550.00,358.47 V363.07 M550.20,362.41 H553.80 M552.00,360.11 V364.71 M552.20,364.00 H555.80 M554.00,361.70 V366.30 M554.20,365.60 H557.80 M556.00,363.30 V367.90 M556.20,367.20 H559.80 M558.00,364.90 V369.50 M558.20,371.90 H561.80 M560.00,369.60 V374.20 M560.20,374.50 H563.80 M562.00,372.20 V376.80 M562.20,376.50 H565.80 M564.00,374.20 V378.80 M564.20,378.27 H567.80 M566.00,375.97 V380.57 M566.20,379.81 H569.80 M568.00,377.51 V382.11 M568.20,380.68 H571.80 M570.00,378.38 V382.98 M570.20,381.32 H573.80 M572.00,379.02 V383.62 M573.20,382.32 H576.80 M575.00,380.02 V384.62 M576.20,383.35 H579.80 M578.00,381.05 V385.65 M579.20,384.88 H582.80 M581.00,382.58 V387.18 M582.20,386.21 H585.80 M584.00,383.91 V388.51 M588.30,397.10 H591.90 M590.10,394.80 V399.40 M589.10,397.10 H592.70 M590.90,394.80 V399.40 M591.30,397.10 H594.90 M593.10,394.80 V399.40 M593.50,397.10 H597.10 M595.30,394.80 V399.40 M594.40,397.10 H598.00 M596.20,394.80 V399.40 M598.80,397.10 H602.40 M600.60,394.80 V399.40 M602.20,400.15 H605.80 M604.00,397.85 V402.45 M604.20,403.17 H607.80 M606.00,400.87 V405.47 M608.00,408.50 H611.60 M609.80,406.20 V410.80 M609.30,408.50 H612.90 M611.10,406.20 V410.80 M611.50,408.50 H615.10 M613.30,406.20 V410.80 M614.10,408.50 H617.70 M615.90,406.20 V410.80 M617.20,408.50 H620.80 M619.00,406.20 V410.80 M618.00,408.50 H621.60 M619.80,406.20 V410.80 M628.60,408.50 H632.20 M630.40,406.20 V410.80 M650.20,438.20 H653.80 M652.00,435.90 V440.50" fill="none" stroke="#5e8ac2" stroke-width="1.0"/>
<path d="M497.70,319.70 H501.30 M499.50,317.40 V322.00 M505.20,320.29 H508.80 M507.00,317.99 V322.59 M507.20,320.79 H510.80 M509.00,318.49 V323.09 M509.20,321.28 H512.80 M511.00,318.98 V323.58 M511.20,324.05 H514.80 M513.00,321.75 V326.35 M512.70,330.77 H516.30 M514.50,328.47 V333.07 M514.20,337.42 H517.80 M516.00,335.12 V339.72 M516.20,339.42 H519.80 M518.00,337.12 V341.72 M518.20,340.74 H521.80 M520.00,338.44 V343.04 M520.20,342.50 H523.80 M522.00,340.20 V344.80 M522.20,344.50 H525.80 M524.00,342.20 V346.80 M524.20,346.82 H527.80 M526.00,344.52 V349.12 M526.20,349.20 H529.80 M528.00,346.90 V351.50 M528.20,351.75 H531.80 M530.00,349.45 V354.05 M530.20,354.21 H533.80 M532.00,351.91 V356.51 M532.20,356.68 H535.80 M534.00,354.38 V358.98 M534.20,359.40 H537.80 M536.00,357.10 V361.70 M535.70,367.17 H539.30 M537.50,364.87 V369.47 M537.20,374.45 H540.80 M539.00,372.15 V376.75 M539.20,378.18 H542.80 M541.00,375.88 V380.48 M541.20,379.69 H544.80 M543.00,377.39 V381.99 M543.20,381.18 H546.80 M545.00,378.88 V383.48 M545.20,383.54 H548.80 M547.00,381.24 V385.84 M547.20,386.08 H550.80 M549.00,383.78 V388.38 M549.20,388.92 H552.80 M551.00,386.62 V391.22 M551.20,391.76 H554.80 M553.00,389.46 V394.06 M553.20,395.74 H556.80 M555.00,393.44 V398.04 M555.20,401.69 H558.80 M557.00,399.39 V403.99 M557.20,405.25 H560.80 M559.00,402.95 V407.55 M559.20,406.06 H562.80 M561.00,403.76 V408.36 M561.20,406.93 H564.80 M563.00,404.63 V409.23 M563.20,408.18 H566.80 M565.00,405.88 V410.48 M565.20,409.49 H568.80 M567.00,407.19 V411.79 M567.20,410.88 H570.80 M569.00,408.58 V413.18 M569.20,412.25 H572.80 M571.00,409.95 V414.55 M571.20,413.47 H574.80 M573.00,411.17 V415.77 M574.20,415.70 H577.80 M576.00,413.40 V418.00 M577.20,418.57 H580.80 M579.00,416.27 V420.87 M580.20,420.80 H583.80 M582.00,418.50 V423.10 M582.20,423.39 H585.80 M584.00,421.09 V425.69 M585.20,435.30 H588.80 M587.00,433.00 V437.60 M588.20,435.99 H591.80 M590.00,433.69 V438.29 M590.20,443.52 H593.80 M592.00,441.22 V445.82 M594.40,448.35 H598.00 M596.20,446.05 V450.65 M597.00,451.04 H600.60 M598.80,448.74 V453.34 M599.20,451.25 H602.80 M601.00,448.95 V453.55 M600.80,451.40 H604.40 M602.60,449.10 V453.70 M626.40,456.60 H630.00 M628.20,454.30 V458.90" fill="none" stroke="#0c4b98" stroke-width="1.0"/>
<text x="484.00" y="501.00" font-size="7.15" text-anchor="start" font-weight="normal" fill="#000" >Number at risk</text>
<path d="M484.1,506.6 V541.0 H683" fill="none" stroke="#6a6a6a" stroke-width="1.1"/>
<line x1="492.90" y1="541.0" x2="492.90" y2="543.0" stroke="#333333" stroke-width="0.9"/>
<text x="492.90" y="550.30" font-size="7.7" text-anchor="middle" font-weight="normal" fill="#3a3a3a" >0</text>
<line x1="535.35" y1="541.0" x2="535.35" y2="543.0" stroke="#333333" stroke-width="0.9"/>
<text x="535.35" y="550.30" font-size="7.7" text-anchor="middle" font-weight="normal" fill="#3a3a3a" >2</text>
<line x1="577.80" y1="541.0" x2="577.80" y2="543.0" stroke="#333333" stroke-width="0.9"/>
<text x="577.80" y="550.30" font-size="7.7" text-anchor="middle" font-weight="normal" fill="#3a3a3a" >4</text>
<line x1="620.25" y1="541.0" x2="620.25" y2="543.0" stroke="#333333" stroke-width="0.9"/>
<text x="620.25" y="550.30" font-size="7.7" text-anchor="middle" font-weight="normal" fill="#3a3a3a" >6</text>
<line x1="662.70" y1="541.0" x2="662.70" y2="543.0" stroke="#333333" stroke-width="0.9"/>
<text x="662.70" y="550.30" font-size="7.7" text-anchor="middle" font-weight="normal" fill="#3a3a3a" >8</text>
<text x="492.90" y="515.70" font-size="9.1" text-anchor="middle" font-weight="normal" fill="#9bb8db" >744</text>
<text x="535.35" y="515.70" font-size="9.1" text-anchor="middle" font-weight="normal" fill="#9bb8db" >378</text>
<text x="577.80" y="515.70" font-size="9.1" text-anchor="middle" font-weight="normal" fill="#9bb8db" >110</text>
<text x="620.25" y="515.70" font-size="9.1" text-anchor="middle" font-weight="normal" fill="#9bb8db" >49</text>
<text x="662.70" y="515.70" font-size="9.1" text-anchor="middle" font-weight="normal" fill="#9bb8db" >0</text>
<text x="492.90" y="526.60" font-size="9.1" text-anchor="middle" font-weight="normal" fill="#5e8ac2" >774</text>
<text x="535.35" y="526.60" font-size="9.1" text-anchor="middle" font-weight="normal" fill="#5e8ac2" >378</text>
<text x="577.80" y="526.60" font-size="9.1" text-anchor="middle" font-weight="normal" fill="#5e8ac2" >101</text>
<text x="620.25" y="526.60" font-size="9.1" text-anchor="middle" font-weight="normal" fill="#5e8ac2" >15</text>
<text x="662.70" y="526.60" font-size="9.1" text-anchor="middle" font-weight="normal" fill="#5e8ac2" >0</text>
<text x="492.90" y="537.90" font-size="9.1" text-anchor="middle" font-weight="normal" fill="#0c4b98" >798</text>
<text x="535.35" y="537.90" font-size="9.1" text-anchor="middle" font-weight="normal" fill="#0c4b98" >371</text>
<text x="577.80" y="537.90" font-size="9.1" text-anchor="middle" font-weight="normal" fill="#0c4b98" >77</text>
<text x="620.25" y="537.90" font-size="9.1" text-anchor="middle" font-weight="normal" fill="#0c4b98" >5</text>
<text x="662.70" y="537.90" font-size="9.1" text-anchor="middle" font-weight="normal" fill="#0c4b98" >0</text>
<path d="M485.3,622.1 V776.4 H683" fill="none" stroke="#333333" stroke-width="1.1"/>
<line x1="483.1" y1="628.40" x2="485.3" y2="628.40" stroke="#333333" stroke-width="0.9"/>
<text x="482.20" y="631.60" font-size="7.9" text-anchor="end" font-weight="normal" fill="#3a3a3a" >1.00</text>
<line x1="483.1" y1="663.67" x2="485.3" y2="663.67" stroke="#333333" stroke-width="0.9"/>
<text x="482.20" y="666.88" font-size="7.9" text-anchor="end" font-weight="normal" fill="#3a3a3a" >0.75</text>
<line x1="483.1" y1="698.95" x2="485.3" y2="698.95" stroke="#333333" stroke-width="0.9"/>
<text x="482.20" y="702.15" font-size="7.9" text-anchor="end" font-weight="normal" fill="#3a3a3a" >0.50</text>
<line x1="483.1" y1="734.23" x2="485.3" y2="734.23" stroke="#333333" stroke-width="0.9"/>
<text x="482.20" y="737.43" font-size="7.9" text-anchor="end" font-weight="normal" fill="#3a3a3a" >0.25</text>
<line x1="483.1" y1="769.50" x2="485.3" y2="769.50" stroke="#333333" stroke-width="0.9"/>
<text x="482.20" y="772.70" font-size="7.9" text-anchor="end" font-weight="normal" fill="#3a3a3a" >0.00</text>
<line x1="494.10" y1="776.4" x2="494.10" y2="778.6" stroke="#333333" stroke-width="0.9"/>
<text x="494.10" y="786.00" font-size="7.7" text-anchor="middle" font-weight="normal" fill="#3a3a3a" >0</text>
<line x1="536.28" y1="776.4" x2="536.28" y2="778.6" stroke="#333333" stroke-width="0.9"/>
<text x="536.28" y="786.00" font-size="7.7" text-anchor="middle" font-weight="normal" fill="#3a3a3a" >2</text>
<line x1="578.46" y1="776.4" x2="578.46" y2="778.6" stroke="#333333" stroke-width="0.9"/>
<text x="578.46" y="786.00" font-size="7.7" text-anchor="middle" font-weight="normal" fill="#3a3a3a" >4</text>
<line x1="620.64" y1="776.4" x2="620.64" y2="778.6" stroke="#333333" stroke-width="0.9"/>
<text x="620.64" y="786.00" font-size="7.7" text-anchor="middle" font-weight="normal" fill="#3a3a3a" >6</text>
<line x1="662.82" y1="776.4" x2="662.82" y2="778.6" stroke="#333333" stroke-width="0.9"/>
<text x="662.82" y="786.00" font-size="7.7" text-anchor="middle" font-weight="normal" fill="#3a3a3a" >8</text>
<text x="584.20" y="796.30" font-size="9.2" text-anchor="middle" font-weight="normal" fill="#1a1a1a" >Years</text>
<text x="0" y="0" font-size="9.0" text-anchor="middle" fill="#1a1a1a" transform="translate(461.9,699.40) rotate(-90)">Dementia-free probability</text>
<text x="497.60" y="744.70" font-size="9.1" text-anchor="start" font-weight="normal" fill="#111" >P &lt; 0.001</text>
<path d="M559.5,604.8 H568.5 M564.0,602.4 V607.1999999999999" stroke="#eca9ad" stroke-width="0.85" fill="none"/>
<text x="573.50" y="607.70" font-size="8" text-anchor="start" font-weight="normal" fill="#333" >D1</text>
<path d="M588.8,604.8 H597.8 M593.3,602.4 V607.1999999999999" stroke="#b8171f" stroke-width="0.85" fill="none"/>
<text x="602.60" y="607.70" font-size="8" text-anchor="start" font-weight="normal" fill="#333" >D2</text>
<path d="M493.90,628.50 H495.35 V628.53 H496.80 V628.56 H498.25 V628.59 H499.70 V628.62 H501.15 V628.65 H502.60 V628.68 H504.05 V628.71 H505.50 V628.74 H506.95 V628.77 H508.40 V628.80 H508.70 V630.23 H509.00 V631.67 H509.30 V633.10 L511.90,633.10 H512.33 V634.57 H512.77 V636.03 H513.20 V637.50 H513.85 V638.80 H514.50 V640.10 H515.40 V641.45 H516.30 V642.80 H517.60 V643.65 H518.90 V644.50 H520.65 V645.80 H522.40 V647.10 H524.15 V648.00 H525.90 V648.90 H527.20 V649.75 H528.50 V650.60 H530.25 V651.95 H532.00 V653.30 H533.75 V655.05 H535.50 V656.80 H537.25 V658.55 H539.00 V660.30 H539.50 V662.00 H539.58 V663.40 H539.66 V664.80 H539.74 V666.20 H539.82 V667.60 H539.90 V669.00 H540.80 V670.75 H541.70 V672.50 H542.75 V674.20 H543.80 V675.90 H545.55 V677.20 H547.30 V678.50 H548.60 V680.25 H549.90 V682.00 H550.75 V683.75 H551.60 V685.50 H552.20 V686.97 H552.80 V688.43 H553.40 V689.90 H554.07 V691.43 H554.73 V692.97 H555.40 V694.50 H555.80 V695.93 H556.20 V697.37 H556.60 V698.80 H557.03 V700.23 H557.47 V701.67 H557.90 V703.10 H558.12 V704.42 H558.35 V705.75 H558.57 V707.08 H558.80 V708.40 H559.07 V710.00 H559.33 V711.60 H559.60 V713.20 H560.95 V713.65 H562.30 V714.10 H563.15 V715.20 H564.00 V716.30 H564.20 V717.60 H564.40 V718.90 H565.95 V719.35 H567.50 V719.80 H568.80 V720.65 H570.10 V721.50 H571.85 V722.60 H573.60 V723.70 H574.95 V724.35 H576.30 V725.00 H577.60 V725.90 H578.25 V727.20 H578.90 V728.50 H580.20 V728.95 H581.50 V729.40 H582.15 V731.15 H582.80 V732.90 H584.60 V734.20 L588.50,734.20 H589.80 V735.50 H589.87 V736.89 H589.94 V738.27 H590.01 V739.66 H590.09 V741.04 H590.16 V742.43 H590.23 V743.81 H590.30 V745.20 H591.60 V745.33 H592.90 V745.47 H594.20 V745.60 H594.65 V746.65 H595.10 V747.70 L613.00,747.70 H613.20 V749.45 H613.40 V751.20 H614.80 V751.30 H616.20 V751.40 H617.60 V751.50 H619.00 V751.60 H620.40 V751.70 H620.80 V753.40 L625.20,753.40 H625.30 V754.92 H625.40 V756.45 H625.50 V757.98 H625.60 V759.50 L639.70,759.50 H639.90 V760.90 H640.10 V762.30 L652.40,762.30" fill="none" stroke="#b8171f" stroke-width="1.0"/>
<path d="M493.90,628.50 H495.35 V628.53 H496.80 V628.56 H498.25 V628.59 H499.70 V628.62 H501.15 V628.65 H502.60 V628.68 H504.05 V628.71 H505.50 V628.74 H506.95 V628.77 H508.40 V628.80 L511.00,628.80 H512.47 V629.37 H513.93 V629.93 H515.40 V630.50 H516.70 V630.95 H518.00 V631.40 H519.30 V631.85 H520.60 V632.30 H522.07 V632.87 H523.53 V633.43 H525.00 V634.00 H526.75 V635.10 H528.50 V636.20 H529.83 V636.75 H531.15 V637.30 H532.47 V637.85 H533.80 V638.40 H535.50 V638.95 H537.20 V639.50 H537.63 V640.83 H538.07 V642.17 H538.50 V643.50 H539.40 V645.05 H540.30 V646.60 H541.60 V647.70 H542.90 V648.80 H544.65 V649.20 H546.40 V649.60 H547.25 V650.95 H548.10 V652.30 H549.20 V653.15 H550.30 V654.00 H550.60 V655.47 H550.90 V656.93 H551.20 V658.40 H551.85 V660.15 H552.50 V661.90 H553.80 V663.20 H555.10 V664.50 H556.85 V665.80 H558.60 V667.10 H559.50 V668.45 H560.40 V669.80 H562.15 V670.20 H563.90 V670.60 H565.20 V671.95 H566.50 V673.30 H567.15 V674.60 H567.80 V675.90 H569.02 V676.00 H570.25 V676.10 H571.48 V676.20 H572.70 V676.30 H574.45 V676.55 H576.20 V676.80 H578.30 V678.50 H578.80 V680.30 L584.90,680.30 H586.70 V682.00 H587.10 V683.75 H587.50 V685.50 H588.40 V687.25 H589.30 V689.00 H589.75 V690.75 H590.20 V692.50 H590.43 V693.77 H590.67 V695.03 H590.90 V696.30 H592.90 V696.60 L598.20,696.60 H599.40 V697.90 L599.40,710.10 L609.90,710.10 H610.00 V711.40 H610.10 V712.70 H610.20 V714.00 H610.30 V715.30 L615.60,715.30 L615.60,721.50 L631.30,721.50 L631.30,741.20 L641.80,741.20 H641.81 V742.62 H641.83 V744.04 H641.84 V745.46 H641.86 V746.88 H641.88 V748.30 H641.89 V749.72 H641.90 V751.14 H641.92 V752.56 H641.93 V753.98 H641.95 V755.40 H641.97 V756.82 H641.98 V758.24 H642.00 V759.66 H642.01 V761.08 H642.02 V762.50 H642.04 V763.92 H642.06 V765.34 H642.07 V766.76 H642.09 V768.18 H642.10 V769.60" fill="none" stroke="#eca9ad" stroke-width="1.0"/>
<path d="M501.30,628.69 H504.90 M503.10,626.39 V630.99 M509.20,628.80 H512.80 M511.00,626.50 V631.10 M511.20,629.57 H514.80 M513.00,627.27 V631.87 M513.20,630.35 H516.80 M515.00,628.05 V632.65 M515.20,631.05 H518.80 M517.00,628.75 V633.35 M517.20,631.75 H520.80 M519.00,629.45 V634.05 M519.20,632.45 H522.80 M521.00,630.15 V634.75 M521.20,633.23 H524.80 M523.00,630.93 V635.53 M523.20,634.00 H526.80 M525.00,631.70 V636.30 M525.20,635.26 H528.80 M527.00,632.96 V637.56 M527.20,636.41 H530.80 M529.00,634.11 V638.71 M529.20,637.24 H532.80 M531.00,634.94 V639.54 M531.20,638.07 H534.80 M533.00,635.77 V640.37 M533.20,638.79 H536.80 M535.00,636.49 V641.09 M535.20,639.44 H538.80 M537.00,637.14 V641.74 M539.20,647.19 H542.80 M541.00,644.89 V649.49 M541.60,648.91 H545.20 M543.40,646.61 V651.21 M543.20,649.28 H546.80 M545.00,646.98 V651.58 M545.20,650.55 H548.80 M547.00,648.25 V652.85 M547.20,653.00 H550.80 M549.00,650.70 V655.30 M550.20,660.55 H553.80 M552.00,658.25 V662.85 M552.20,663.40 H555.80 M554.00,661.10 V665.70 M554.20,665.17 H557.80 M556.00,662.87 V667.47 M556.20,666.65 H559.80 M558.00,664.35 V668.95 M558.20,669.20 H561.80 M560.00,666.90 V671.50 M560.20,670.17 H563.80 M562.00,667.87 V672.47 M562.20,670.70 H565.80 M564.00,668.40 V673.00 M564.70,673.30 H568.30 M566.50,671.00 V675.60 M568.20,676.08 H571.80 M570.00,673.78 V678.38 M572.70,676.56 H576.30 M574.50,674.26 V678.86 M575.20,677.45 H578.80 M577.00,675.15 V679.75 M578.20,680.30 H581.80 M580.00,678.00 V682.60 M582.20,680.30 H585.80 M584.00,678.00 V682.60 M584.70,681.81 H588.30 M586.50,679.51 V684.11 M588.20,691.72 H591.80 M590.00,689.42 V694.02 M591.50,696.60 H595.10 M593.30,694.30 V698.90 M596.80,697.03 H600.40 M598.60,694.73 V699.33 M609.00,715.30 H612.60 M610.80,713.00 V717.60 M613.30,715.30 H616.90 M615.10,713.00 V717.60 M618.60,721.50 H622.20 M620.40,719.20 V723.80 M638.30,741.20 H641.90 M640.10,738.90 V743.50" fill="none" stroke="#eca9ad" stroke-width="1.0"/>
<path d="M501.30,628.69 H504.90 M503.10,626.39 V630.99 M507.00,630.71 H510.60 M508.80,628.41 V633.01 M508.20,633.10 H511.80 M510.00,630.80 V635.40 M510.20,633.44 H513.80 M512.00,631.14 V635.74 M512.20,639.10 H515.80 M514.00,636.80 V641.40 M513.70,641.60 H517.30 M515.50,639.30 V643.90 M515.20,643.26 H518.80 M517.00,640.96 V645.56 M517.20,644.57 H520.80 M519.00,642.27 V646.87 M519.20,646.06 H522.80 M521.00,643.76 V648.36 M521.20,647.41 H524.80 M523.00,645.11 V649.71 M523.20,648.44 H526.80 M525.00,646.14 V650.74 M525.20,649.62 H528.80 M527.00,647.32 V651.92 M527.20,650.99 H530.80 M529.00,648.69 V653.29 M529.20,652.53 H532.80 M531.00,650.23 V654.83 M531.20,654.30 H534.80 M533.00,652.00 V656.60 M533.20,656.30 H536.80 M535.00,654.00 V658.60 M535.20,658.30 H538.80 M537.00,656.00 V660.60 M537.20,660.30 H540.80 M539.00,658.00 V662.60 M539.20,671.14 H542.80 M541.00,668.84 V673.44 M541.20,674.60 H544.80 M543.00,672.30 V676.90 M543.20,676.79 H546.80 M545.00,674.49 V679.09 M545.20,678.28 H548.80 M547.00,675.98 V680.58 M547.20,680.79 H550.80 M549.00,678.49 V683.09 M550.20,686.48 H553.80 M552.00,684.18 V688.78 M553.20,693.58 H556.80 M555.00,691.28 V695.88 M556.10,703.10 H559.70 M557.90,700.80 V705.40 M557.40,710.80 H561.00 M559.20,708.50 V713.10 M567.50,720.98 H571.10 M569.30,718.68 V723.28 M571.00,723.20 H574.60 M572.80,720.90 V725.50 M583.70,734.20 H587.30 M585.50,731.90 V736.50 M645.70,762.30 H649.30 M647.50,760.00 V764.60 M648.80,762.30 H652.40 M650.60,760.00 V764.60" fill="none" stroke="#b8171f" stroke-width="1.0"/>
<text x="484.00" y="811.00" font-size="7.15" text-anchor="start" font-weight="normal" fill="#000" >Number at risk</text>
<path d="M484.1,816.4 V850.4 H683" fill="none" stroke="#6a6a6a" stroke-width="1.1"/>
<line x1="493.20" y1="850.4" x2="493.20" y2="852.4" stroke="#333333" stroke-width="0.9"/>
<text x="493.20" y="859.70" font-size="7.7" text-anchor="middle" font-weight="normal" fill="#3a3a3a" >0</text>
<line x1="535.65" y1="850.4" x2="535.65" y2="852.4" stroke="#333333" stroke-width="0.9"/>
<text x="535.65" y="859.70" font-size="7.7" text-anchor="middle" font-weight="normal" fill="#3a3a3a" >2</text>
<line x1="578.10" y1="850.4" x2="578.10" y2="852.4" stroke="#333333" stroke-width="0.9"/>
<text x="578.10" y="859.70" font-size="7.7" text-anchor="middle" font-weight="normal" fill="#3a3a3a" >4</text>
<line x1="620.55" y1="850.4" x2="620.55" y2="852.4" stroke="#333333" stroke-width="0.9"/>
<text x="620.55" y="859.70" font-size="7.7" text-anchor="middle" font-weight="normal" fill="#3a3a3a" >6</text>
<line x1="663.00" y1="850.4" x2="663.00" y2="852.4" stroke="#333333" stroke-width="0.9"/>
<text x="663.00" y="859.70" font-size="7.7" text-anchor="middle" font-weight="normal" fill="#3a3a3a" >8</text>
<text x="493.20" y="828.70" font-size="9.1" text-anchor="middle" font-weight="normal" fill="#efb2b5" >248</text>
<text x="535.65" y="828.70" font-size="9.1" text-anchor="middle" font-weight="normal" fill="#efb2b5" >146</text>
<text x="578.10" y="828.70" font-size="9.1" text-anchor="middle" font-weight="normal" fill="#efb2b5" >38</text>
<text x="620.55" y="828.70" font-size="9.1" text-anchor="middle" font-weight="normal" fill="#efb2b5" >9</text>
<text x="663.00" y="828.70" font-size="9.1" text-anchor="middle" font-weight="normal" fill="#efb2b5" >0</text>
<text x="493.20" y="845.00" font-size="9.1" text-anchor="middle" font-weight="normal" fill="#b8171f" >265</text>
<text x="535.65" y="845.00" font-size="9.1" text-anchor="middle" font-weight="normal" fill="#b8171f" >123</text>
<text x="578.10" y="845.00" font-size="9.1" text-anchor="middle" font-weight="normal" fill="#b8171f" >28</text>
<text x="620.55" y="845.00" font-size="9.1" text-anchor="middle" font-weight="normal" fill="#b8171f" >10</text>
<text x="663.00" y="845.00" font-size="9.1" text-anchor="middle" font-weight="normal" fill="#b8171f" >0</text>
</svg>
</body></html>
